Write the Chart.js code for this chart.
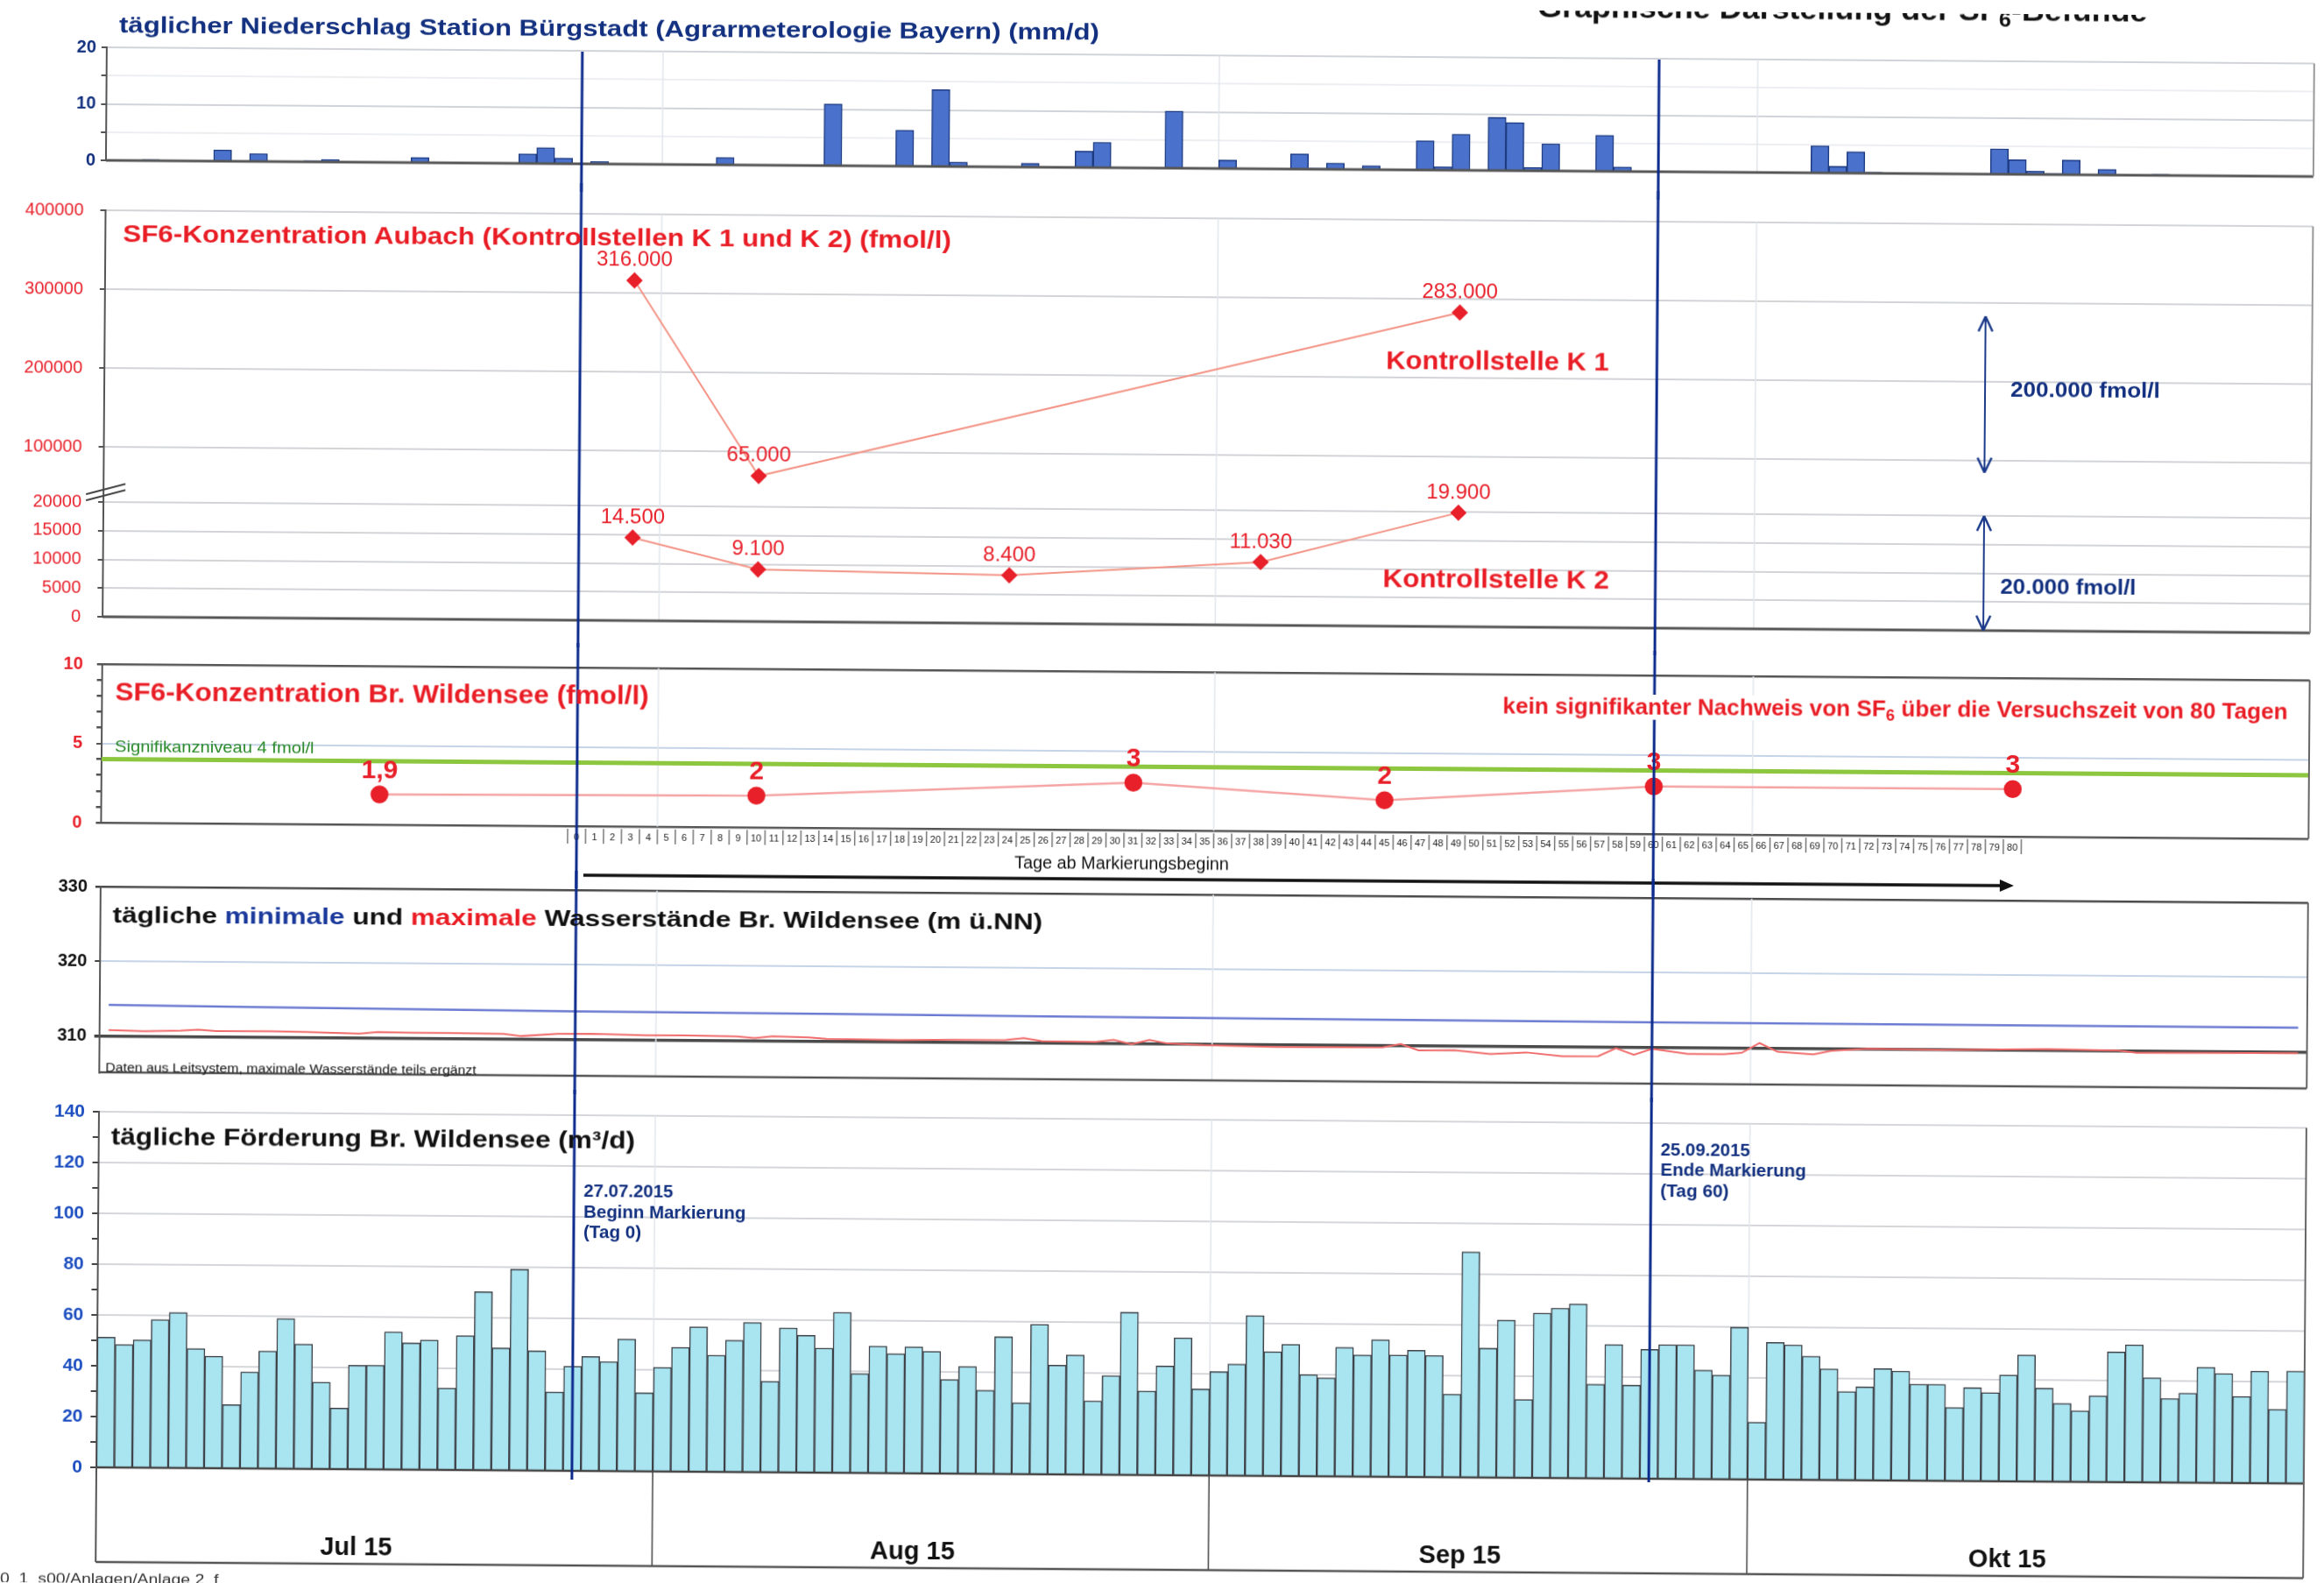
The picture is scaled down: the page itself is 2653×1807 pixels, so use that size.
<!DOCTYPE html>
<html lang="de">
<head>
<meta charset="utf-8">
<title>Graphische Darstellung der SF6-Befunde</title>
<script src="https://cdn.jsdelivr.net/npm/chart.js@4.4.1/dist/chart.umd.min.js"></script>
<style>
  html, body { margin: 0; padding: 0; background: #fff; }
  #page {
    position: relative; width: 2653px; height: 1807px; overflow: hidden; background: #fff;
    font-family: "Liberation Sans", Arial, sans-serif;
    transform: rotate(0.42deg); transform-origin: 110px 1675px;
  }
  #page canvas { position: absolute; left: 0; }
  .t { position: absolute; white-space: nowrap; line-height: 1.15; font-weight: bold; transform-origin: 0 50%; transform: translateY(-50%); }
  .t sub { font-size: 0.7em; vertical-align: -0.3em; line-height: 0; }
  .navy { color: #12307f; }
  .red { color: #e91d25; }
  .blk { color: #111; }
  .thin { font-weight: normal; }
</style>
</head>
<body>
<div id="page">
  <canvas id="cRain" width="2653" height="215" style="top:0px"></canvas>
  <canvas id="cAubach" width="2653" height="530" style="top:205px"></canvas>
  <canvas id="cWild" width="2653" height="280" style="top:730px"></canvas>
  <canvas id="cLevel" width="2653" height="255" style="top:990px"></canvas>
  <canvas id="cFlow" width="2653" height="567" style="top:1240px"></canvas>

  <div class="t navy" style="left:124px;top:29px;font-size:26px" data-w="1119">täglicher Niederschlag Station Bürgstadt (Agrarmeterologie Bayern) (mm/d)</div>
  <div class="t blk" style="left:1743px;top:-4px;font-size:34px" data-w="696">Graphische Darstellung der SF<sub>6</sub>-Befunde</div>

  <div class="t red" style="left:130px;top:267px;font-size:28px" data-w="946">SF6-Konzentration Aubach (Kontrollstellen K 1 und K 2) (fmol/l)</div>
  <div class="t red" style="left:1573px;top:401px;font-size:29px" data-w="255">Kontrollstelle K 1</div>
  <div class="t red" style="left:1571px;top:650px;font-size:29px" data-w="259">Kontrollstelle K 2</div>
  <div class="t navy" style="left:2286px;top:429px;font-size:23px" data-w="171">200.000 fmol/l</div>
  <div class="t navy" style="left:2276px;top:654px;font-size:23px" data-w="155">20.000 fmol/l</div>

  <div class="t red" style="left:125px;top:790px;font-size:29px" data-w="609">SF6-Konzentration Br. Wildensee (fmol/l)</div>
  <div class="t thin" style="left:125px;top:852px;font-size:19px;color:#2a8a2a" data-w="227">Signifikanzniveau 4 fmol/l</div>
  <div class="t red" style="left:1707px;top:794px;font-size:25px;background:#fff;padding:0 2px" data-w="901">kein signifikanter Nachweis von SF<sub>6</sub> über die Versuchszeit von 80 Tagen</div>
  <div class="t thin blk" style="left:1153px;top:977px;font-size:20px" data-w="245">Tage ab Markierungsbeginn</div>

  <div class="t blk" style="left:124px;top:1045px;font-size:26px" data-w="1061">tägliche <span style="color:#1b3a9c">minimale</span> und <span style="color:#ea1d25">maximale</span> Wasserstände Br. Wildensee (m ü.NN)</div>
  <div class="t thin blk" style="left:117px;top:1218px;font-size:15px" data-w="423">Daten aus Leitsystem, maximale Wasserstände teils ergänzt</div>

  <div class="t blk" style="left:124px;top:1298px;font-size:27px" data-w="598">tägliche Förderung Br. Wildensee (m³/d)</div>
  <div class="t navy" style="left:664px;top:1355px;font-size:20px" data-w="102">27.07.2015</div>
  <div class="t navy" style="left:664px;top:1379px;font-size:20px" data-w="185">Beginn Markierung</div>
  <div class="t navy" style="left:664px;top:1402px;font-size:20px" data-w="66">(Tag 0)</div>
  <div class="t navy" style="left:1893px;top:1299px;font-size:20px" data-w="102">25.09.2015</div>
  <div class="t navy" style="left:1893px;top:1322px;font-size:20px" data-w="166">Ende Markierung</div>
  <div class="t navy" style="left:1893px;top:1346px;font-size:20px" data-w="78">(Tag 60)</div>
  <div class="t thin" style="left:1px;top:1803px;font-size:16px;color:#333" data-w="250">0_1_s00/Anlagen/Anlage 2_f</div>
</div>

<script>
Chart.defaults.font.family = "'Liberation Sans', Arial, sans-serif";

// x axis: one slot per day, 1 Jul – 31 Oct 2015
const months = ["Jul 15", "Aug 15", "Sep 15", "Okt 15"];
const monthLength = [31, 31, 30, 31];
const markerDays = [26, 86];        // 27.07.2015 = Tag 0, 25.09.2015 = Tag 60
const tagStart = 26;
const tagCount = 80;

// daily rain (mm/d), only days with rain
const rainDays = [2, 6, 7, 8, 11, 12, 17, 21, 23, 24, 25, 27, 34, 40, 41, 44, 46, 47, 49, 51, 54, 55, 59,
  62, 66, 67, 68, 70, 73, 74, 75, 77, 78, 79, 80, 83, 84, 95, 96, 97, 98, 105, 106, 107, 108, 109, 111, 114];
const rainValues = [0.2, 2.0, 0.1, 1.4, 0.2, 0.45, 0.9, 0.1, 1.7, 2.8, 1.0, 0.4, 1.3, 10.9, 0.1, 6.4, 13.6, 0.8, 0.1, 0.7, 2.9, 4.5, 10.1,
  1.5, 2.7, 0.2, 1.1, 0.7, 5.2, 0.6, 6.4, 9.4, 8.5, 0.6, 4.8, 6.4, 0.8, 4.8, 1.2, 3.8, 0.2, 4.5, 2.6, 0.6, 0.2, 2.6, 1.0, 0.2];

// SF6 Aubach (fmol/l)
const sf6Ticks = [0, 5000, 10000, 15000, 20000, 100000, 200000, 300000, 400000];
const k1Days = [29, 36, 75];
const k1Values = [316000, 65000, 283000];
const k2Days = [29, 36, 50, 64, 75];
const k2Values = [14500, 9100, 8400, 11030, 19900];

// SF6 Br. Wildensee (fmol/l)
const wildDays = [15, 36, 57, 71, 86, 106];
const wildValues = [1.9, 2, 3, 2, 3, 3];
const signifLevel = 4;

// water levels (m ü.NN)
const levelTicks = [310, 320, 330];
const minLevelDays = [0, 8, 16, 26, 40, 52, 64, 76, 86, 100, 122];
const minLevelValues = [314.2, 314.05, 313.95, 313.8, 313.7, 313.6, 313.5, 313.45, 313.4, 313.35, 313.3];
const maxLevelDays = [0, 1, 2, 4, 5, 6, 9, 11, 14, 15, 17, 19, 22, 23, 25, 27, 30, 32, 35, 36, 37, 39, 40, 44, 47, 50,
  51, 52, 55, 56, 57, 58, 59, 61, 65, 67, 71, 72, 73, 75, 77, 79, 81, 83, 84, 85, 86, 88, 90, 91, 92, 93, 95, 96, 98,
  102, 108, 112, 113, 117, 122];
const maxLevelValues = [310.83, 310.8, 310.74, 310.85, 311.0, 310.82, 310.83, 310.8, 310.6, 310.85, 310.8, 310.78, 310.72,
  310.45, 310.8, 310.82, 310.68, 310.7, 310.62, 310.42, 310.66, 310.55, 310.37, 310.3, 310.38, 310.4, 310.67, 310.3,
  310.22, 310.53, 309.96, 310.55, 310.1, 309.9, 309.73, 309.73, 309.8, 310.25, 309.42, 309.48, 309.0, 309.25, 308.77,
  308.8, 309.9, 309.04, 309.85, 309.2, 309.2, 309.4, 310.73, 309.58, 309.27, 309.77, 310.08, 310.0, 310.2, 310.08,
  309.8, 309.85, 309.92];

// daily pumping (m³/d)
const flowValues = [51.3, 48.4, 50.3, 58.3, 61.2, 47.0, 44.1, 25.1, 38.0, 46.3,
  59.1, 49.1, 34.2, 24.0, 40.9, 41.0, 54.2, 49.9, 51.1, 32.2,
  52.9, 70.2, 48.2, 79.2, 47.1, 31.0, 41.2, 45.1, 43.1, 52.0,
  30.9, 41.0, 48.9, 57.0, 45.9, 51.9, 58.9, 35.8, 56.9, 54.0,
  49.0, 63.2, 39.1, 50.0, 47.0, 49.8, 48.1, 37.0, 42.2, 32.9,
  54.0, 28.1, 59.0, 43.0, 47.0, 29.0, 39.0, 64.0, 33.1, 43.0,
  54.1, 34.0, 40.9, 43.9, 63.1, 48.9, 51.9, 40.0, 38.8, 50.8,
  47.9, 53.9, 48.0, 49.9, 47.9, 32.7, 88.8, 50.9, 62.0, 30.8,
  64.9, 66.9, 68.6, 37.0, 52.7, 36.8, 50.9, 52.8, 52.8, 42.9,
  41.0, 59.9, 22.6, 54.0, 53.1, 48.7, 43.8, 34.9, 36.8, 44.0,
  43.1, 38.0, 38.0, 28.9, 36.8, 34.9, 41.9, 49.8, 36.8, 30.8,
  28.0, 33.9, 51.3, 54.1, 41.2, 33.1, 35.2, 45.5, 43.1, 34.1,
  44.1, 29.1, 44.2];

// ---- derived ----
const days = [];
months.forEach((m, k) => {
  for (let d = 1; d <= monthLength[k]; d++) days.push(d + "." + (7 + k) + ".2015");
});
const monthEdges = [];
let acc = 0;
monthLength.forEach(n => { acc += n; monthEdges.push(acc); });
const rainByDay = days.map(() => null);
rainDays.forEach((d, i) => { rainByDay[d] = rainValues[i]; });
const pts = (ds, ys) => ds.map((d, i) => ({ x: days[d], y: ys[i] }));
const fmtDe = v => String(v).replace(/\B(?=(\d{3})+(?!\d))/g, ".");

// broken value axis for the Aubach panel
const sf6Breaks = [[0, 0], [20000, 0.2818], [100000, 0.4175], [400000, 1]];
function brokenDecimal(v) {
  for (let i = 1; i < sf6Breaks.length; i++) {
    const [v0, d0] = sf6Breaks[i - 1], [v1, d1] = sf6Breaks[i];
    if (v <= v1 || i === sf6Breaks.length - 1) return d0 + (v - v0) / (v1 - v0) * (d1 - d0);
  }
}
class BrokenScale extends Chart.LinearScale {
  static id = "broken";
  static defaults = {};
  buildTicks() {
    this.start = this.min; this.end = this.max;
    return sf6Ticks.map(v => ({ value: v }));
  }
  getPixelForValue(v) { return this.getPixelForDecimal(brokenDecimal(v)); }
  getValueForPixel(p) {
    const d = this.getDecimalForPixel(p);
    for (let i = 1; i < sf6Breaks.length; i++) {
      const [v0, d0] = sf6Breaks[i - 1], [v1, d1] = sf6Breaks[i];
      if (d <= d1 || i === sf6Breaks.length - 1) return v0 + (d - d0) / (d1 - d0) * (v1 - v0);
    }
  }
}
Chart.register(BrokenScale);

// ---- drawing helpers ----
function line(ctx, x0, y0, x1, y1, color, w) {
  ctx.save(); ctx.strokeStyle = color; ctx.lineWidth = w;
  ctx.beginPath(); ctx.moveTo(x0, y0); ctx.lineTo(x1, y1); ctx.stroke(); ctx.restore();
}
function edgeX(x, i) { return (x.getPixelForValue(i - 1) + x.getPixelForValue(i)) / 2; }
function monthGrid(chart, color, y0, y1) {
  const a = chart.chartArea, x = chart.scales.x;
  monthEdges.slice(0, -1).forEach(b => {
    const px = edgeX(x, b);
    line(chart.ctx, px, y0 ?? a.top, px, y1 ?? a.bottom, color, 1.5);
  });
}
function valueLabels(font, color, dy, fmt) {
  return {
    id: "valueLabels",
    afterDatasetsDraw(ch) {
      const ctx = ch.ctx;
      ctx.save(); ctx.font = font; ctx.fillStyle = color; ctx.textAlign = "center"; ctx.textBaseline = "middle";
      ch.data.datasets.forEach((ds, i) => {
        ch.getDatasetMeta(i).data.forEach((pt, j) => ctx.fillText(fmt(ds.data[j].y), pt.x, pt.y - dy));
      });
      ctx.restore();
    }
  };
}

// blue marker lines (page y ranges)
const markerSpan = [[55, 1685], [55, 1679]];
const markerPlugin = {
  id: "markers",
  afterDraw(chart, args, opts) {
    const x = chart.scales.x;
    markerDays.forEach((d, i) => {
      const px = x.getPixelForValue(d);
      const y0 = Math.max(0, markerSpan[i][0] - opts.top);
      const y1 = Math.min(chart.height, markerSpan[i][1] - opts.top);
      if (y1 > y0) line(chart.ctx, px, y0, px, y1, "#0b2a8c", 3);
    });
  }
};

function panel(top, padTop, padBottom, yOpts) {
  return {
    responsive: false, animation: false, devicePixelRatio: 1, events: [],
    layout: { padding: { left: 0, right: 23, top: padTop, bottom: padBottom } },
    plugins: { legend: { display: false }, tooltip: { enabled: false }, markers: { top: top } },
    scales: {
      x: { type: "category", offset: true, display: false },
      y: Object.assign({ afterFit: s => { s.width = 110; } }, yOpts)
    }
  };
}

// ---- 1: rain ----
new Chart(document.getElementById("cRain"), {
  type: "bar",
  data: { labels: days, datasets: [{ data: rainByDay, backgroundColor: "#4a72cc", borderColor: "#1d3a80",
    borderWidth: 1.5, barPercentage: 1, categoryPercentage: 1 }] },
  options: panel(0, 54, 32, {
    min: 0, max: 20,
    ticks: { stepSize: 5, autoSkip: false, padding: 6, color: "#12307f", font: { size: 20, weight: "bold" },
      callback: v => (v % 10 === 0 ? String(v) : "") },
    grid: { color: c => (c.tick.value === 0 ? "transparent" : c.tick.value % 10 === 0 ? "#d0d4da" : "#eceef2"),
      lineWidth: 2, tickLength: 6, tickColor: "#555" },
    border: { color: "#555", width: 2 }
  }),
  plugins: [{
    id: "rainFrame",
    beforeDatasetsDraw(ch) { monthGrid(ch, "#e2e6ec"); },
    afterDatasetsDraw(ch) {
      const a = ch.chartArea;
      line(ch.ctx, a.left, a.bottom, a.right, a.bottom, "#555", 3);
      line(ch.ctx, a.right, a.top, a.right, a.bottom, "#999", 2);
    }
  }, markerPlugin]
});

// ---- 2: SF6 Aubach ----
new Chart(document.getElementById("cAubach"), {
  type: "line",
  data: { labels: days, datasets: [
    { label: "Kontrollstelle K 1", data: pts(k1Days, k1Values), borderColor: "#f39385", borderWidth: 2,
      pointStyle: "rectRot", pointRadius: 8, pointBackgroundColor: "#e8202a", pointBorderColor: "#e8202a" },
    { label: "Kontrollstelle K 2", data: pts(k2Days, k2Values), borderColor: "#f39385", borderWidth: 2,
      pointStyle: "rectRot", pointRadius: 8, pointBackgroundColor: "#e8202a", pointBorderColor: "#e8202a" }
  ] },
  options: panel(205, 35, 16, {
    type: "broken", min: 0, max: 400000,
    ticks: { autoSkip: false, padding: 19, color: "#e8202a", font: { size: 20 }, callback: v => String(v) },
    grid: { color: c => (c.tick.value === 0 ? "transparent" : "#d2d4d8"), lineWidth: 2, tickLength: 6, tickColor: "#555" },
    border: { color: "#555", width: 2 }
  }),
  plugins: [{
    id: "aubachFrame",
    beforeDatasetsDraw(ch) { monthGrid(ch, "#e2e6ec"); },
    afterDatasetsDraw(ch) {
      const ctx = ch.ctx, a = ch.chartArea, y = ch.scales.y;
      line(ctx, a.left, a.bottom, a.right, a.bottom, "#555", 3);
      line(ctx, a.right, a.top, a.right, a.bottom, "#999", 2);
      // axis break
      const yb = y.getPixelForValue(20000);
      line(ctx, a.left - 20, yb - 2, a.left + 25, yb - 14, "#444", 2);
      line(ctx, a.left - 20, yb - 9, a.left + 25, yb - 21, "#444", 2);
      // span arrows
      [[283000, 83000], [20000, 0]].forEach(([v0, v1]) => {
        const ax = 2257, ya = y.getPixelForValue(v0), yc = y.getPixelForValue(v1);
        line(ctx, ax, ya, ax, yc, "#1b3a8a", 2);
        line(ctx, ax, ya, ax - 8, ya + 17, "#1b3a8a", 2.5); line(ctx, ax, ya, ax + 8, ya + 17, "#1b3a8a", 2.5);
        line(ctx, ax, yc, ax - 8, yc - 17, "#1b3a8a", 2.5); line(ctx, ax, yc, ax + 8, yc - 17, "#1b3a8a", 2.5);
      });
    }
  }, valueLabels("24px 'Liberation Sans', Arial", "#e8202a", 23, fmtDe), markerPlugin]
});

// ---- 3: SF6 Br. Wildensee ----
new Chart(document.getElementById("cWild"), {
  type: "line",
  data: { labels: days, datasets: [
    { label: "SF6 Br. Wildensee", data: pts(wildDays, wildValues), borderColor: "#f5a3a3", borderWidth: 2.5,
      pointRadius: 9, pointBackgroundColor: "#e8202a", pointBorderColor: "#e8202a" }
  ] },
  options: panel(730, 26, 71, {
    min: 0, max: 10,
    ticks: { stepSize: 1, autoSkip: false, padding: 16, color: "#e8202a", font: { size: 20, weight: "bold" },
      callback: v => (v % 5 === 0 ? String(v) : "") },
    grid: { color: c => (c.tick.value === 5 ? "#c6d4e8" : c.tick.value % 10 === 0 ? "#555" : "transparent"),
      lineWidth: c => (c.tick.value === 5 ? 2 : 2.5), tickLength: 6, tickColor: "#555" },
    border: { color: "#555", width: 2 }
  }),
  plugins: [{
    id: "wildFrame",
    beforeDatasetsDraw(ch) {
      const a = ch.chartArea, yy = ch.scales.y.getPixelForValue(signifLevel);
      monthGrid(ch, "#e2e6ec");
      line(ch.ctx, a.left, yy, a.right, yy, "#8dc63f", 5);
    },
    afterDatasetsDraw(ch) {
      const ctx = ch.ctx, a = ch.chartArea, x = ch.scales.x;
      line(ctx, a.right, a.top, a.right, a.bottom, "#666", 2);
      // Tag boxes
      ctx.save();
      ctx.font = "11px 'Liberation Sans', Arial"; ctx.fillStyle = "#222";
      ctx.textAlign = "center"; ctx.textBaseline = "middle";
      for (let t = 0; t <= tagCount; t++) {
        const d = tagStart + t, px = x.getPixelForValue(d);
        const xl = edgeX(x, d);
        line(ctx, xl, a.bottom + 3, xl, a.bottom + 20, "#555", 1.2);
        ctx.fillText(String(t), px, a.bottom + 13);
      }
      const xr = edgeX(x, tagStart + tagCount + 1);
      line(ctx, xr, a.bottom + 3, xr, a.bottom + 20, "#555", 1.2);
      // arrow
      const ay = a.bottom + 56, x0 = x.getPixelForValue(tagStart) + 8, x1 = x.getPixelForValue(tagStart + tagCount);
      line(ctx, x0, ay, x1 - 10, ay, "#111", 3.5);
      ctx.fillStyle = "#111"; ctx.beginPath();
      ctx.moveTo(x1 + 2, ay); ctx.lineTo(x1 - 14, ay - 7); ctx.lineTo(x1 - 14, ay + 7); ctx.closePath(); ctx.fill();
      ctx.restore();
    }
  }, valueLabels("bold 30px 'Liberation Sans', Arial", "#e8202a", 27, v => String(v).replace(".", ",")), markerPlugin]
});

// ---- 4: water levels ----
new Chart(document.getElementById("cLevel"), {
  type: "line",
  data: { labels: days, datasets: [
    { label: "minimale Wasserstände", data: pts(minLevelDays, minLevelValues), borderColor: "#6c7bd2", borderWidth: 2.5, pointRadius: 0 },
    { label: "maximale Wasserstände", data: pts(maxLevelDays, maxLevelValues), borderColor: "#f06a6a", borderWidth: 2, pointRadius: 0 }
  ] },
  options: panel(990, 22, 15, {
    min: 305.2, max: 330,
    afterBuildTicks: s => { s.ticks = levelTicks.map(v => ({ value: v })); },
    ticks: { autoSkip: false, padding: 9, color: "#111", font: { size: 20, weight: "bold" }, callback: v => String(v) },
    grid: { color: c => (c.tick.value === 320 ? "#c6d4e8" : "#4a4a4a"),
      lineWidth: c => (c.tick.value === 310 ? 3.5 : c.tick.value === 320 ? 2 : 2.5), tickLength: 6, tickColor: "#444" },
    border: { color: "#555", width: 2 }
  }),
  plugins: [{
    id: "levelFrame",
    beforeDatasetsDraw(ch) { monthGrid(ch, "#e2e6ec"); },
    afterDatasetsDraw(ch) {
      const a = ch.chartArea;
      line(ch.ctx, a.left, a.bottom, a.right, a.bottom, "#555", 2.5);
      line(ch.ctx, a.right, a.top, a.right, a.bottom, "#666", 2);
    }
  }, markerPlugin]
});

// ---- 5: daily pumping ----
new Chart(document.getElementById("cFlow"), {
  type: "bar",
  data: { labels: days, datasets: [{ data: flowValues, backgroundColor: "#a9e4f1", borderColor: "#3d4046",
    borderWidth: 1.5, barPercentage: 1, categoryPercentage: 1 }] },
  options: panel(1240, 29, 132, {
    min: 0, max: 140,
    ticks: { stepSize: 10, autoSkip: false, padding: 9, color: "#1e4fc0", font: { size: 21, weight: "bold" },
      callback: v => (v % 20 === 0 ? String(v) : "") },
    grid: { color: c => (c.tick.value !== 0 && c.tick.value % 20 === 0 ? "#d4d6da" : "transparent"),
      lineWidth: 2, tickLength: 7, tickColor: "#444" },
    border: { color: "#555", width: 2 }
  }),
  plugins: [{
    id: "flowFrame",
    beforeDatasetsDraw(ch) { monthGrid(ch, "#e2e6ec"); },
    afterDatasetsDraw(ch) {
      const ctx = ch.ctx, a = ch.chartArea, x = ch.scales.x, yb = a.bottom + 108;
      line(ctx, a.left, a.bottom, a.right, a.bottom, "#444", 2.5);
      monthGrid(ch, "#444", a.bottom, yb);
      line(ctx, a.left, a.bottom, a.left, yb, "#555", 2);
      line(ctx, a.right, a.top, a.right, yb, "#666", 2);
      line(ctx, a.left, yb, a.right, yb, "#555", 2.5);
      ctx.save();
      ctx.font = "bold 29px 'Liberation Sans', Arial"; ctx.fillStyle = "#111";
      ctx.textAlign = "center"; ctx.textBaseline = "middle";
      let start = 0;
      months.forEach((m, k) => {
        const mid = start + monthLength[k] / 2 - 1.5;
        ctx.fillText(m, x.getPixelForValue(Math.floor(mid)) + (mid - Math.floor(mid)) * (x.width / days.length), a.bottom + 90);
        start += monthLength[k];
      });
      ctx.restore();
    }
  }, markerPlugin]
});

// squeeze texts to the widths in the scan
function fitTexts() {
  document.querySelectorAll(".t").forEach(el => {
    el.style.transform = "translateY(-50%)";
    const k = +el.dataset.w / el.offsetWidth;
    el.style.transform = "translateY(-50%) scaleX(" + k.toFixed(3) + ")";
  });
}
fitTexts();
if (document.fonts) document.fonts.ready.then(fitTexts);
</script>
</body>
</html>
